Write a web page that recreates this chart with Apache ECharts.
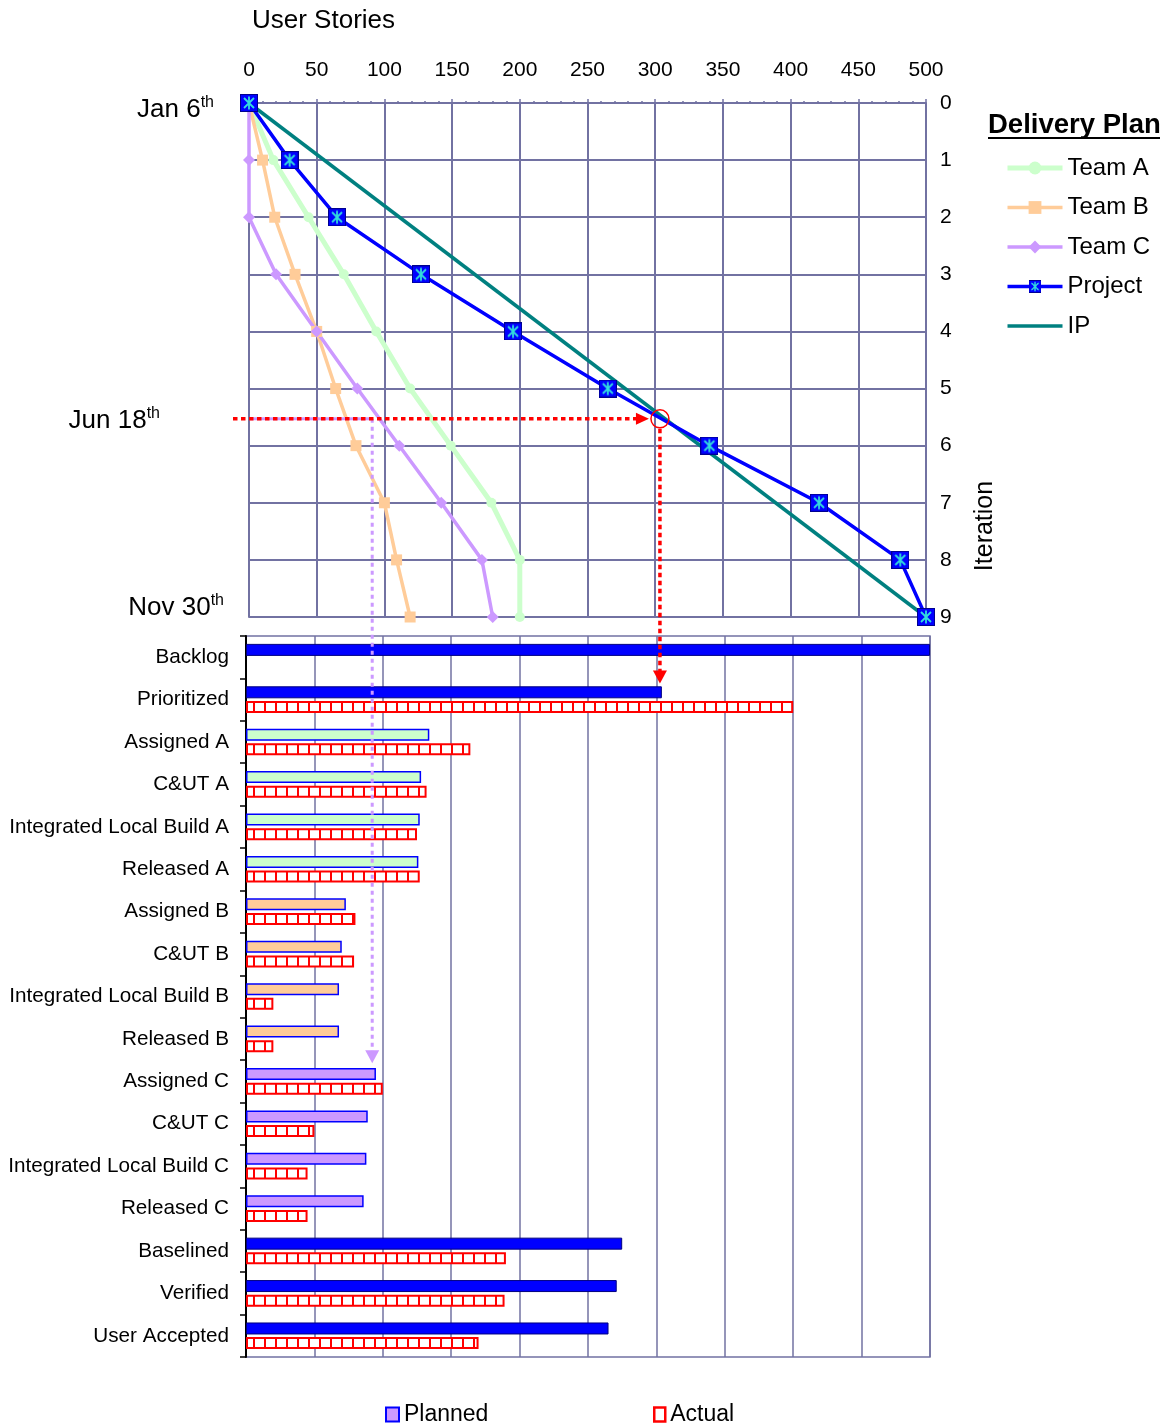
<!DOCTYPE html>
<html>
<head>
<meta charset="utf-8">
<script src="https://cdn.jsdelivr.net/npm/echarts@6/dist/echarts.min.js"></script>
<style>
  html, body { margin: 0; padding: 0; background: #fff; }
  #chart { width: 1169px; height: 1426px; }
</style>
</head>
<body>
<div id="chart"></div>
<script>
// burn-down plan (top): user stories reached at each iteration
const iterations = [0, 1, 2, 3, 4, 5, 6, 7, 8, 9]
const teamA = [0, 18, 44, 70, 94, 119, 149, 179, 200, 200]
const teamB = [0, 10, 19, 34, 50, 64, 79, 100, 109, 119]
const teamC = [0, 0, 0, 20, 50, 80, 111, 142, 172, 180]
const project = [0, 30, 65, 127, 195, 265, 340, 421, 481, 500]
const ipStories = [0, 500]
const ipIterations = [0, 9]

// status snapshot (bottom)
const stages = ['Backlog', 'Prioritized', 'Assigned A', 'C&UT A', 'Integrated Local Build A', 'Released A',
  'Assigned B', 'C&UT B', 'Integrated Local Build B', 'Released B',
  'Assigned C', 'C&UT C', 'Integrated Local Build C', 'Released C',
  'Baselined', 'Verified', 'User Accepted']
const stageTeam = ['P', 'P', 'A', 'A', 'A', 'A', 'B', 'B', 'B', 'B', 'C', 'C', 'C', 'C', 'P', 'P', 'P']
const planned = [500, 304, 134, 128, 127, 126, 73, 70, 68, 68, 95, 89, 88, 86, 275, 271, 265]
const actual = [null, 400, 164, 132, 125, 127, 80, 79, 20, 20, 100, 50, 45, 45, 190, 189, 170]

// annotation: where the project plan meets the IP line (Jun 18th)
const handoffIteration = 5.53
const handoffStories = 303.5
const teamCStoriesAtHandoff = 91
const dateMarks = [
  { day: 'Jan 6', iter: 0, right: 214, dy: 7 },
  { day: 'Jun 18', iter: 5.53, right: 160, dy: 2 },
  { day: 'Nov 30', iter: 9, right: 224, dy: -9 },
]

const GRID = '#7272A2'
const FONT = 'Liberation Sans, Arial, sans-serif'
const TEAM_FILL = { P: '#0000FF', A: '#CCFFCC', B: '#FFCC99', C: '#CC99FF' }

function projectSymbol() {
  const c = document.createElement('canvas')
  c.width = 18; c.height = 18
  const g = c.getContext('2d')
  g.fillStyle = '#0000FF'; g.fillRect(0, 0, 18, 18)
  g.strokeStyle = '#000090'; g.lineWidth = 1; g.strokeRect(0.5, 0.5, 17, 17)
  g.strokeStyle = '#33DDDD'; g.lineWidth = 1.8
  g.beginPath()
  g.moveTo(9, 2.5); g.lineTo(9, 15.5)
  g.moveTo(4, 4); g.lineTo(14, 14)
  g.moveTo(14, 4); g.lineTo(4, 14)
  g.stroke()
  return 'image://' + c.toDataURL()
}

function brickPattern() {
  const c = document.createElement('canvas')
  c.width = 11; c.height = 16
  const g = c.getContext('2d')
  g.fillStyle = '#fff'; g.fillRect(0, 0, 11, 16)
  g.fillStyle = '#FF0000'; g.fillRect(0, 0, 2, 16)
  return { image: c, repeat: 'repeat' }
}

const pairs = (vals) => vals.map((v, i) => [v, iterations[i]])
const lineBase = { type: 'line', xAxisIndex: 0, yAxisIndex: 0, showAllSymbol: true, animation: false }

const option = {
  animation: false,
  backgroundColor: '#fff',
  textStyle: { fontFamily: FONT, color: '#000' },
  grid: [
    { left: 249, top: 103, width: 677, height: 514 },
    { left: 246, top: 636, width: 684, height: 721, show: true, borderColor: GRID, borderWidth: 1.5 },
  ],
  xAxis: [
    {
      gridIndex: 0, type: 'value', position: 'top', min: 0, max: 500, interval: 50,
      axisLine: { lineStyle: { color: GRID, width: 2 } },
      axisTick: { show: true, length: 4, lineStyle: { color: GRID, width: 1.5 } },
      minorTick: { show: true, splitNumber: 5, length: 2, lineStyle: { color: GRID, width: 1.5 } },
      axisLabel: { fontSize: 21, color: '#000', margin: 22, fontFamily: FONT },
      splitLine: { show: true, lineStyle: { color: GRID, width: 2 } },
    },
    {
      gridIndex: 1, type: 'value', min: 0, max: 500, interval: 50,
      axisLine: { lineStyle: { color: GRID, width: 1.5 } },
      axisTick: { show: false }, axisLabel: { show: false },
      splitLine: { show: true, lineStyle: { color: GRID, width: 1.5 } },
    },
  ],
  yAxis: [
    {
      gridIndex: 0, type: 'value', position: 'right', inverse: true, min: 0, max: 9, interval: 1,
      axisLine: { show: true, lineStyle: { color: GRID, width: 2 } },
      axisTick: { show: true, length: 5, lineStyle: { color: GRID, width: 2 } },
      axisLabel: { fontSize: 21, color: '#000', margin: 14, fontFamily: FONT },
      splitLine: { show: true, lineStyle: { color: GRID, width: 2 } },
    },
    {
      gridIndex: 1, type: 'category', inverse: true, data: stages,
      axisLine: { show: true, lineStyle: { color: '#000', width: 2 } },
      axisTick: { show: true, length: 6, lineStyle: { color: '#000', width: 1.5 } },
      axisLabel: { fontSize: 20.7, color: '#000', margin: 17, fontFamily: FONT },
      splitLine: { show: false },
    },
  ],
  legend: [
    {
      data: ['Team A', 'Team B', 'Team C', 'Project',
        { name: 'IP', itemStyle: { color: 'transparent', borderWidth: 0 } }],
      orient: 'vertical', left: 1005, top: 156, padding: 0,
      itemWidth: 55, itemHeight: 16, itemGap: 15.5,
      lineStyle: { width: 'inherit' },
      textStyle: { fontSize: 24, color: '#000', fontFamily: FONT },
    },
    {
      data: [{ name: 'Planned', icon: 'rect' }], left: 385, top: 1403, padding: 0,
      itemWidth: 13, itemHeight: 14,
      itemStyle: { borderWidth: 2 },
      textStyle: { fontSize: 23, color: '#000', fontFamily: FONT },
    },
    {
      data: [{ name: 'Actual', icon: 'rect', itemStyle: { color: '#fff', borderColor: '#FF0000', borderWidth: 2.5 } }],
      left: 653, top: 1403, padding: 0, itemWidth: 11, itemHeight: 14,
      textStyle: { fontSize: 23, color: '#000', fontFamily: FONT },
    },
  ],
  series: [
    { ...lineBase, name: 'Team A', data: pairs(teamA), symbol: 'circle', symbolSize: 10,
      lineStyle: { color: '#CCFFCC', width: 5 }, itemStyle: { color: '#CCFFCC' } },
    { ...lineBase, name: 'Team B', data: pairs(teamB), symbol: 'rect', symbolSize: 11,
      lineStyle: { color: '#FFCC99', width: 3.5 }, itemStyle: { color: '#FFCC99' } },
    { ...lineBase, name: 'Team C', data: pairs(teamC), symbol: 'diamond', symbolSize: 12,
      lineStyle: { color: '#CC99FF', width: 3.5 }, itemStyle: { color: '#CC99FF' } },
    { ...lineBase, name: 'IP', data: ipStories.map((v, i) => [v, ipIterations[i]]), symbol: 'none',
      lineStyle: { color: '#008080', width: 3.5 }, itemStyle: { color: '#008080' } },
    { ...lineBase, name: 'Project', data: pairs(project), symbol: projectSymbol(), symbolSize: 18,
      lineStyle: { color: '#0000FF', width: 3.5 }, itemStyle: { color: '#0000FF' } },
    {
      name: 'Planned', type: 'bar', xAxisIndex: 1, yAxisIndex: 1, barWidth: 12, barGap: '22%',
      itemStyle: { color: '#CC99FF', borderColor: '#0000FF', borderWidth: 1.5 },
      data: planned.map((v, i) => ({
        value: v,
        itemStyle: stageTeam[i] === 'P'
          ? { color: TEAM_FILL.P, borderColor: '#000080', borderWidth: 1 }
          : { color: TEAM_FILL[stageTeam[i]], borderColor: '#0000FF', borderWidth: 1.5 },
      })),
    },
    {
      name: 'Actual', type: 'bar', xAxisIndex: 1, yAxisIndex: 1, barWidth: 12,
      itemStyle: { color: brickPattern(), borderColor: '#FF0000', borderWidth: 2 },
      data: actual,
    },
  ],
}

const chart = echarts.init(document.getElementById('chart'), null, { renderer: 'canvas' })
chart.setOption(option)

// annotations placed through the axes
const topPx = (x, y) => chart.convertToPixel({ xAxisIndex: 0, yAxisIndex: 0 }, [x, y])
const lowPx = (x, idx) => chart.convertToPixel({ xAxisIndex: 1, yAxisIndex: 1 }, [x, idx])

const [cx, cy] = topPx(handoffStories, handoffIteration)
const [ox] = topPx(0, 0)
const [tx] = topPx(teamCStoriesAtHandoff, 0)
const redTip = lowPx(handoffStories, stages.indexOf('Prioritized'))[1] - 16
const purpleTip = lowPx(teamCStoriesAtHandoff, stages.indexOf('Assigned C'))[1] - 18
const [, iterTop] = topPx(0, 0)
const [, iterBottom] = topPx(0, 9)

const graphic = [
  { type: 'text', left: 252, top: 8, style: { text: 'User Stories', fontSize: 26, fill: '#000', fontFamily: FONT } },
  { type: 'text', x: 985, y: (iterTop + iterBottom) / 2 + 166, rotation: Math.PI / 2,
    style: { text: 'Iteration', fontSize: 25, fill: '#000', fontFamily: FONT, align: 'center', verticalAlign: 'middle' } },
  { type: 'text', x: 988, y: 125, style: { text: 'Delivery Plan', fontSize: 27.5, fontWeight: 'bold', fill: '#000',
    fontFamily: FONT, verticalAlign: 'middle' } },
  { type: 'line', shape: { x1: 988, y1: 138, x2: 1160, y2: 138 }, style: { stroke: '#000', lineWidth: 2 } },
  // Team C guide
  { type: 'line', z: 10, shape: { x1: ox, y1: cy, x2: tx, y2: cy }, style: { stroke: '#CC99FF', lineWidth: 3 } },
  { type: 'line', z: 10, shape: { x1: tx, y1: cy, x2: tx, y2: purpleTip - 12 },
    style: { stroke: '#CC99FF', lineWidth: 3, lineDash: [4, 4] } },
  { type: 'polygon', z: 10, shape: { points: [[tx - 7, purpleTip - 13], [tx + 7, purpleTip - 13], [tx, purpleTip]] },
    style: { fill: '#CC99FF' } },
  // project guide
  { type: 'line', z: 11, shape: { x1: ox - 16, y1: cy, x2: cx - 22, y2: cy },
    style: { stroke: '#FF0000', lineWidth: 3.5, lineDash: [4.5, 3.5] } },
  { type: 'polygon', z: 11, shape: { points: [[cx - 24, cy - 6], [cx - 24, cy + 6], [cx - 11, cy]] },
    style: { fill: '#FF0000' } },
  { type: 'circle', z: 11, shape: { cx: cx, cy: cy, r: 9 }, style: { fill: 'transparent', stroke: '#FF0000', lineWidth: 1.5 } },
  { type: 'line', z: 11, shape: { x1: cx, y1: cy + 10, x2: cx, y2: redTip - 12 },
    style: { stroke: '#FF0000', lineWidth: 3.5, lineDash: [4.5, 3.5] } },
  { type: 'polygon', z: 11, shape: { points: [[cx - 7, redTip - 13], [cx + 7, redTip - 13], [cx, redTip]] },
    style: { fill: '#FF0000' } },
]

dateMarks.forEach(d => {
  const y = topPx(0, d.iter)[1] + d.dy
  graphic.push({
    type: 'text', x: d.right, y: y,
    style: {
      text: '{a|' + d.day + '}{s|th}', align: 'right', verticalAlign: 'middle', fill: '#000',
      rich: {
        a: { fontSize: 26, lineHeight: 30, fontFamily: FONT, fill: '#000' },
        s: { fontSize: 16, lineHeight: 17, verticalAlign: 'top', fontFamily: FONT, fill: '#000' },
      },
    },
  })
})

chart.setOption({ graphic: graphic })
</script>
</body>
</html>
